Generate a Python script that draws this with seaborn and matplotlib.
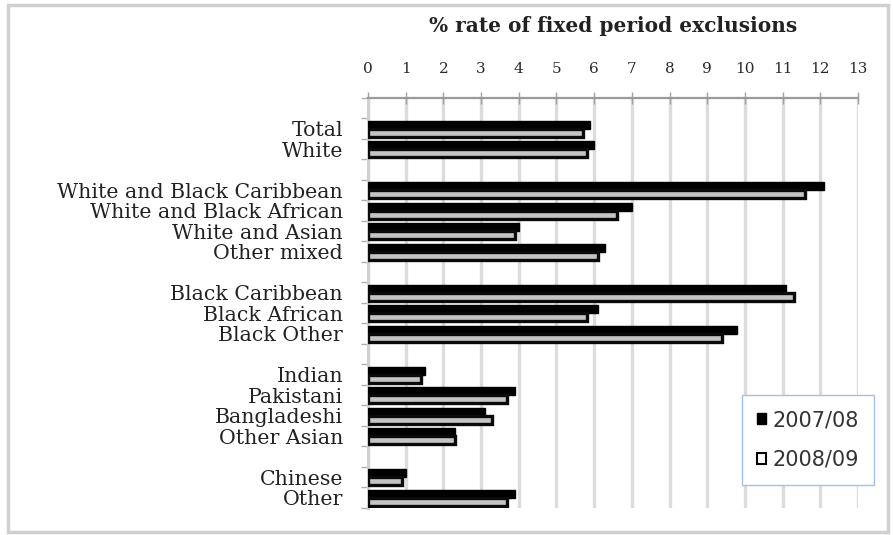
import matplotlib
matplotlib.use("Agg")
import matplotlib.pyplot as plt
from matplotlib.patches import Rectangle, Patch
import seaborn as sns
import pandas as pd

# Ethnic groups, top to bottom; None marks a blank spacer row between groups
groups = [None, "Total", "White", None,
          "White and Black Caribbean", "White and Black African",
          "White and Asian", "Other mixed", None,
          "Black Caribbean", "Black African", "Black Other", None,
          "Indian", "Pakistani", "Bangladeshi", "Other Asian", None,
          "Chinese", "Other"]

rate_2007_08 = [5.9, 6.0, 12.1, 7.0, 4.0, 6.3, 11.1, 6.1, 9.8, 1.5, 3.9, 3.1, 2.3, 1.0, 3.9]
rate_2008_09 = [5.7, 5.8, 11.6, 6.6, 3.9, 6.1, 11.3, 5.8, 9.4, 1.4, 3.7, 3.3, 2.3, 0.9, 3.7]
years = ["2007/08", "2008/09"]
x_ticks = list(range(0, 14))

# unique blank names keep the spacer rows as empty categories
order, k = [], 0
for g in groups:
    if g is None:
        k += 1
        order.append(" " * k)
    else:
        order.append(g)
named = [g for g in groups if g is not None]

df = pd.DataFrame({
    "group": named * 2,
    "year": [years[0]] * len(named) + [years[1]] * len(named),
    "rate": rate_2007_08 + rate_2008_09,
})

sns.set_style("white")
plt.rcParams["font.family"] = ["DejaVu Serif"]

fig = plt.figure(figsize=(8.93, 5.35), dpi=100)
ax = fig.add_axes([368 / 893, 1 - 508 / 535, 490 / 893, 410 / 535])

sns.barplot(data=df, y="group", x="rate", hue="year", order=order,
            hue_order=years, orient="h", width=0.78, dodge=True,
            palette=["black", "white"], legend=False, ax=ax, zorder=3)

for bar in ax.containers[0]:
    bar.set_facecolor("black")
    bar.set_edgecolor("black")
    bar.set_linewidth(1.0)
for bar in ax.containers[1]:
    bar.set_facecolor("#c4c4c4")
    bar.set_edgecolor("#0a0a0a")
    bar.set_linewidth(2.4)

ax.set_xlim(0, 13)
ax.set_ylim(len(order) - 0.5, -0.5)
ax.set_xticks(x_ticks)
ax.xaxis.tick_top()
ax.xaxis.set_label_position("top")
ax.tick_params(axis="x", which="major", direction="inout", length=9,
               width=1, color="#a0a0a0", labelsize=11, pad=11,
               labelcolor="#2a2a2a")
ax.set_xlabel("")
ax.set_ylabel("")

ax.set_yticks(range(len(order)))
ax.set_yticklabels(order)
ax.set_yticks([i + 0.5 for i in range(-1, len(order))], minor=True)
ax.tick_params(axis="y", which="major", length=0, pad=18, labelsize=14.8,
               labelcolor="#222222")
ax.tick_params(axis="y", which="minor", left=True, length=5, width=1,
               color="#b0b0b0")

ax.grid(axis="x", color="#dcdcdc", linewidth=2.4, zorder=0)
ax.set_axisbelow(True)
for side in ["right", "bottom"]:
    ax.spines[side].set_visible(False)
ax.spines["top"].set_color("#9a9a9a")
ax.spines["top"].set_linewidth(1.6)
ax.spines["left"].set_color("#d0d0d0")
ax.spines["left"].set_linewidth(2.2)

fig.text(613 / 893, 1 - 26 / 535, "% rate of fixed period exclusions",
         ha="center", va="center", fontsize=14.5, fontweight="bold",
         color="#222222")

handles = [Patch(facecolor="black", edgecolor="black", label=years[0]),
           Patch(facecolor="white", edgecolor="black", linewidth=1.5, label=years[1])]
leg = fig.legend(handles=handles, loc="upper left",
                 bbox_to_anchor=(742 / 893, 1 - 395 / 535),
                 prop={"family": "DejaVu Sans", "size": 15},
                 handlelength=0.45, handleheight=0.45, handletextpad=0.3,
                 labelspacing=0.95, borderpad=0.72, borderaxespad=0,
                 fancybox=False, framealpha=1, edgecolor="#9dc3e6")
for t in leg.get_texts():
    t.set_color("#333333")

fig.patches.append(Rectangle((8 / 893, 3 / 535), 880 / 893, 527 / 535,
                             transform=fig.transFigure, fill=False,
                             edgecolor="#d0d0d0", linewidth=2.5))

fig.savefig("out.png", dpi=100)
